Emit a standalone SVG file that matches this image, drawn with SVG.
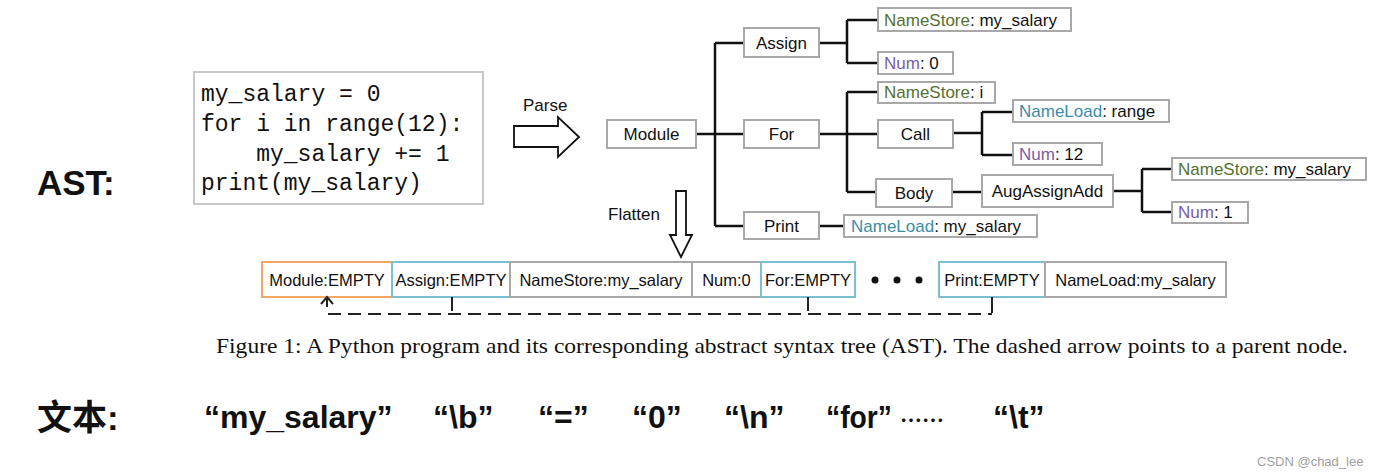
<svg xmlns="http://www.w3.org/2000/svg" width="1378" height="476" viewBox="0 0 1378 476">
<defs>
<style>
.bx{fill:#fff;stroke:#a8a8a8;stroke-width:2}
.t{font-family:"Liberation Sans",Arial,sans-serif;font-size:17px;fill:#111;text-anchor:middle}
.tl{font-family:"Liberation Sans",Arial,sans-serif;font-size:17px;fill:#111}
.gs{fill:#56702f}
.pu{fill:#7a5ea6}
.tq{fill:#3a8ea8}
.ln{stroke:#111;stroke-width:2.5;fill:none}
.code{font-family:"Liberation Mono","DejaVu Sans Mono",monospace;font-size:23px;fill:#111}
.big{font-family:"Liberation Sans",Arial,"Noto Sans CJK SC",sans-serif;font-weight:bold;font-size:35px;fill:#111}
.q{font-family:"Liberation Sans",Arial,sans-serif;font-weight:bold;font-size:32px;fill:#111}
.rt{font-family:"Liberation Sans",Arial,sans-serif;font-size:16.5px;fill:#111;text-anchor:middle}
</style>
</defs>
<rect width="1378" height="476" fill="#fff"/>

<g id="label-ast"><text class="big" x="37" y="195">AST:</text></g>

<g id="code">
<rect x="194" y="72" width="289" height="132" fill="#fff" stroke="#c8c8c8" stroke-width="2"/>
<text class="code" x="201" y="101" xml:space="preserve">my_salary = 0</text>
<text class="code" x="201" y="131" xml:space="preserve">for i in range(12):</text>
<text class="code" x="201" y="161" xml:space="preserve">    my_salary += 1</text>
<text class="code" x="201" y="190" xml:space="preserve">print(my_salary)</text>
</g>

<g id="parse-arrow">
<text class="tl" x="523" y="111">Parse</text>
<polygon points="514,126 558,126 558,117 579,137 558,157 558,147 514,147" fill="#fff" stroke="#111" stroke-width="1.8"/>
</g>

<g id="flatten-arrow">
<text class="tl" x="608" y="220">Flatten</text>
<polygon points="676,191 686,191 686,235 692,235 681,257 670,235 676,235" fill="#fff" stroke="#111" stroke-width="1.8"/>
</g>

<g id="connectors">
<path class="ln" d="M696,134H743 M715,43V226 M715,43H744 M715,226H744"/>
<path class="ln" d="M819,43H847 M847,20V63 M847,20H878 M847,63H878"/>
<path class="ln" d="M819,134H878 M847,92V192 M847,92H878 M847,192H876"/>
<path class="ln" d="M953,133H982 M982,112V155 M982,112H1013 M982,155H1013"/>
<path class="ln" d="M952,192H982"/>
<path class="ln" d="M1113,191H1142 M1142,169V212 M1142,169H1172 M1142,212H1172"/>
<path class="ln" d="M819,226H844"/>
</g>

<g id="n-module"><rect class="bx" x="607" y="120" width="89" height="28"/><text class="t" x="651.5" y="140">Module</text></g>
<g id="n-assign"><rect class="bx" x="744" y="28" width="75" height="29"/><text class="t" x="781.5" y="49">Assign</text></g>
<g id="n-namestore1"><rect class="bx" x="878" y="8" width="193" height="23"/><text class="tl" x="884" y="26"><tspan class="gs">NameStore</tspan>: my_salary</text></g>
<g id="n-num0"><rect class="bx" x="878" y="52" width="75" height="22"/><text class="tl" x="884" y="69"><tspan class="pu">Num</tspan>: 0</text></g>
<g id="n-for"><rect class="bx" x="744" y="120" width="75" height="28"/><text class="t" x="781.5" y="140">For</text></g>
<g id="n-namestore-i"><rect class="bx" x="878" y="82" width="117" height="21"/><text class="tl" x="884" y="98"><tspan class="gs">NameStore</tspan>: i</text></g>
<g id="n-call"><rect class="bx" x="878" y="120" width="75" height="28"/><text class="t" x="915.5" y="140">Call</text></g>
<g id="n-nameload-range"><rect class="bx" x="1013" y="100" width="156" height="22"/><text class="tl" x="1019" y="117"><tspan class="tq">NameLoad</tspan>: range</text></g>
<g id="n-num12"><rect class="bx" x="1013" y="143" width="89" height="22"/><text class="tl" x="1019" y="160"><tspan class="pu">Num</tspan>: 12</text></g>
<g id="n-body"><rect class="bx" x="876" y="179" width="76" height="28"/><text class="t" x="914" y="199">Body</text></g>
<g id="n-augassign"><rect class="bx" x="982" y="175" width="131" height="32"/><text class="t" x="1047.5" y="197">AugAssignAdd</text></g>
<g id="n-namestore2"><rect class="bx" x="1172" y="158" width="194" height="22"/><text class="tl" x="1178" y="175"><tspan class="gs">NameStore</tspan>: my_salary</text></g>
<g id="n-num1"><rect class="bx" x="1172" y="202" width="76" height="21"/><text class="tl" x="1178" y="218"><tspan class="pu">Num</tspan>: 1</text></g>
<g id="n-print"><rect class="bx" x="744" y="212" width="75" height="27"/><text class="t" x="781.5" y="232">Print</text></g>
<g id="n-nameload-my"><rect class="bx" x="844" y="215" width="193" height="22"/><text class="tl" x="851" y="232"><tspan class="tq">NameLoad</tspan>: my_salary</text></g>

<g id="flat-row">
<g id="f-module"><rect x="262" y="262" width="130" height="35" fill="#fff" stroke="#f2a766" stroke-width="2"/><text class="rt" x="327" y="285.5">Module:EMPTY</text></g>
<g id="f-assign"><rect x="392" y="262" width="118" height="35" fill="#fff" stroke="#7cbfd5" stroke-width="2"/><text class="rt" x="451" y="285.5">Assign:EMPTY</text></g>
<g id="f-namestore"><rect x="510" y="262" width="182" height="35" fill="#fff" stroke="#a8a8a8" stroke-width="2"/><text class="rt" x="601" y="285.5">NameStore:my_salary</text></g>
<g id="f-num0"><rect x="692" y="262" width="69" height="35" fill="#fff" stroke="#a8a8a8" stroke-width="2"/><text class="rt" x="726.5" y="285.5">Num:0</text></g>
<g id="f-for"><rect x="761" y="262" width="94" height="35" fill="#fff" stroke="#7cbfd5" stroke-width="2"/><text class="rt" x="808" y="285.5">For:EMPTY</text></g>
<g id="f-dots"><circle cx="875" cy="280" r="3.5" fill="#111"/><circle cx="897" cy="280" r="3.5" fill="#111"/><circle cx="919" cy="280" r="3.5" fill="#111"/></g>
<g id="f-print"><rect x="939" y="262" width="106" height="35" fill="#fff" stroke="#7cbfd5" stroke-width="2"/><text class="rt" x="992" y="285.5">Print:EMPTY</text></g>
<g id="f-nameload"><rect x="1045" y="262" width="181" height="35" fill="#fff" stroke="#a8a8a8" stroke-width="2"/><text class="rt" x="1135.5" y="285.5">NameLoad:my_salary</text></g>
</g>

<g id="parent-links" stroke="#222" stroke-width="2" fill="none">
<path d="M328,314H992" stroke-dasharray="13,7"/>
<path d="M327,298V307 M321,304L327,297L333,304"/>
<path d="M452,297V311 M808,297V311 M992,297V313"/>
</g>

<g id="caption"><text x="216" y="353" font-family="'Liberation Serif','Times New Roman',serif" font-size="22" fill="#111" textLength="1132" lengthAdjust="spacingAndGlyphs">Figure 1: A Python program and its corresponding abstract syntax tree (AST). The dashed arrow points to a parent node.</text></g>

<g id="label-text"><text class="big" x="37" y="430" font-family="'Noto Sans CJK SC',sans-serif">文本:</text></g>
<g id="tokens">
<text class="q" x="204" y="428">“my_salary”</text>
<text class="q" x="433" y="428">“\b”</text>
<text class="q" x="538" y="428">“=”</text>
<text class="q" x="632" y="428">“0”</text>
<text class="q" x="724" y="428">“\n”</text>
<text class="q" x="826" y="428" textLength="66" lengthAdjust="spacingAndGlyphs">“for”</text>
<text x="900" y="428" font-family="'Noto Sans CJK SC',sans-serif" font-weight="bold" font-size="22" fill="#111">……</text>
<text class="q" x="993" y="428">“\t”</text>
</g>

<g id="watermark"><text x="1257" y="466" font-family="'Liberation Sans',Arial,sans-serif" font-size="13" fill="#a0a0a0">CSDN @chad_lee</text></g>
</svg>
